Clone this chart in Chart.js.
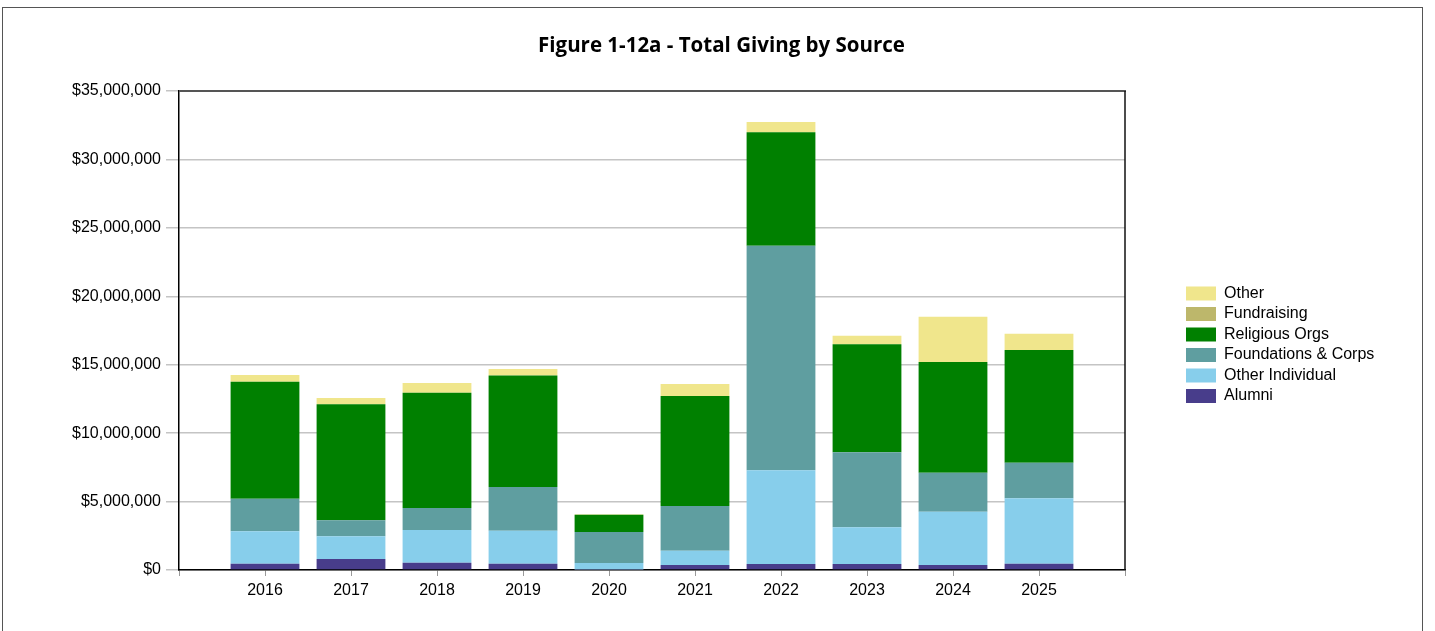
<!DOCTYPE html>
<html>
<head>
<meta charset="utf-8">
<script src="https://cdn.jsdelivr.net/npm/chart.js@4/dist/chart.umd.min.js"></script>
<style>
  html, body { margin: 0; padding: 0; background: #fff; }
  #wrap { position: relative; width: 1435px; height: 631px; overflow: hidden; }
  #frame { position: absolute; left: 2px; top: 7px; width: 1421px; height: 700px; border: 1.5px solid #555; box-sizing: border-box; pointer-events: none; }
  canvas { position: absolute; left: 0; top: 0; }
</style>
</head>
<body>
<div id="wrap">
  <canvas id="c" width="1435" height="631"></canvas>
  <div id="frame"></div>
</div>
<script>
// ---- data (values in dollars) ----
const categories = ['2016','2017','2018','2019','2020','2021','2022','2023','2024','2025'];
const alumni          = [460000, 800000, 530000, 460000, 30000, 370000, 440000, 440000, 370000, 460000];
const otherIndividual = [2370000, 1660000, 2390000, 2410000, 480000, 1040000, 6840000, 2680000, 3890000, 4780000];
const foundationsCorps= [2380000, 1170000, 1610000, 3190000, 2270000, 3270000, 16420000, 5480000, 2850000, 2600000];
const religiousOrgs   = [8550000, 8480000, 8430000, 8160000, 1260000, 8030000, 8280000, 7890000, 8090000, 8230000];
const fundraising     = [0, 0, 0, 0, 0, 0, 0, 0, 0, 0];
const other           = [490000, 460000, 700000, 470000, 30000, 880000, 750000, 630000, 3310000, 1200000];
const yTickMax = 35000000;
const yTickStep = 5000000;

// category axis padded with an empty slot at each end
const labels = [''].concat(categories, ['']);
const pad = arr => [null].concat(arr, [null]);

const seriesDefs = [
  { label: 'Alumni', data: alumni, color: '#483D8B' },
  { label: 'Other Individual', data: otherIndividual, color: '#87CEEB' },
  { label: 'Foundations & Corps', data: foundationsCorps, color: '#5F9EA0' },
  { label: 'Religious Orgs', data: religiousOrgs, color: '#008000' },
  { label: 'Fundraising', data: fundraising, color: '#BDB76B' },
  { label: 'Other', data: other, color: '#F0E68C' }
];

const PLOT_LEFT = 179, PLOT_RIGHT = 1125, PAD_L = 8;
const layoutState = { rightGap: 100 };

const framePlugin = {
  id: 'frameLines',
  afterDatasetsDraw(chart) {
    const a = chart.chartArea, ctx = chart.ctx;
    ctx.save();
    ctx.lineWidth = 2;
    ctx.strokeStyle = '#555';
    ctx.beginPath(); ctx.moveTo(a.left, a.top); ctx.lineTo(a.right + 1, a.top); ctx.stroke();
    ctx.strokeStyle = '#111';
    ctx.lineWidth = 1.5;
    ctx.beginPath(); ctx.moveTo(a.right, a.top); ctx.lineTo(a.right, a.bottom); ctx.stroke();
    ctx.restore();
  }
};

const legendPlace = {
  id: 'legendPlace',
  afterLayout(chart) {
    const lg = chart.legend;
    if (!lg) return;
    const p = lg.options.labels.padding;
    const w = lg.width, h = lg.height;
    lg.left = 1186 - p; lg.right = lg.left + w;
    lg.top = 285.5 - p; lg.bottom = lg.top + h;
  }
};

const chart = new Chart(document.getElementById('c'), {
  type: 'bar',
  data: {
    labels: labels,
    datasets: seriesDefs.map(s => ({
      label: s.label,
      data: pad(s.data),
      backgroundColor: s.color,
      borderColor: s.color,
      borderWidth: 0,
      categoryPercentage: 0.8,
      barPercentage: 1.0
    }))
  },
  options: {
    responsive: false,
    animation: false,
    devicePixelRatio: 1,
    layout: { padding: { top: 7, bottom: 25.8, left: PAD_L, right: 0 } },
    plugins: {
      title: {
        display: true,
        text: 'Figure 1-12a - Total Giving by Source',
        color: '#000',
        font: { family: '"Open Sans", "Noto Sans", sans-serif', size: 20.5, weight: 'bold', lineHeight: 1.2 },
        padding: { top: 26.5, bottom: 32.9 }
      },
      legend: {
        position: 'right',
        align: 'start',
        reverse: true,
        labels: {
          boxWidth: 30,
          boxHeight: 14,
          padding: 4.5,
          color: '#000',
          font: { family: '"Liberation Sans", Arial, sans-serif', size: 16 }
        }
      },
      tooltip: { enabled: false }
    },
    scales: {
      x: {
        stacked: true,
        offset: false,
        grid: { display: true, offset: false, drawOnChartArea: false, drawTicks: true, tickLength: 6, color: '#999', lineWidth: 1 },
        border: { display: true, color: '#000', width: 1.5 },
        ticks: {
          autoSkip: false, maxRotation: 0, padding: 5, color: '#000',
          font: { family: '"Liberation Sans", Arial, sans-serif', size: 16 }
        }
      },
      y: {
        stacked: true,
        min: 0, max: yTickMax,
        afterFit(s) { s.width = PLOT_LEFT - PAD_L; },
        grid: { color: '#c4c4c4', lineWidth: 1.5, tickLength: 13, drawTicks: true },
        border: { display: true, color: '#000', width: 1.5 },
        ticks: {
          stepSize: yTickStep, padding: 5, color: '#000',
          font: { family: '"Liberation Sans", Arial, sans-serif', size: 16 },
          callback: v => '$' + Number(v).toLocaleString('en-US')
        }
      },
      yGap: {
        type: 'linear',
        position: 'right',
        display: true,
        afterFit(s) { s.width = layoutState.rightGap; },
        grid: { display: false, drawTicks: false },
        border: { display: false },
        ticks: { display: false }
      }
    }
  },
  plugins: [framePlugin, legendPlace]
});

// second pass: size the empty right gutter so the plot ends where the original's does
layoutState.rightGap = Math.max(0, 1435 - PLOT_RIGHT - chart.legend.width);
chart.update();
</script>
</body>
</html>
